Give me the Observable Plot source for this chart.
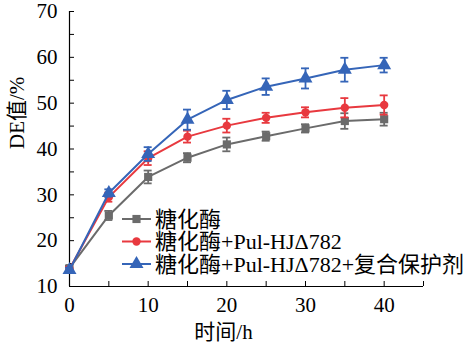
<!DOCTYPE html>
<html>
<head>
<meta charset="utf-8">
<script src="https://cdn.jsdelivr.net/npm/d3@7"></script>
<script src="https://cdn.jsdelivr.net/npm/@observablehq/plot@0.6"></script>
<style>
  body { margin: 0; background: #fff; }
  #chart { position: relative; width: 470px; height: 358px; }
  #chart svg, #chart svg text { font-family: "Liberation Serif", "DejaVu Serif", "Noto Sans CJK SC", serif !important; }
</style>
</head>
<body>
<div id="chart"></div>
<script>
const times = [0, 5, 10, 15, 20, 25, 30, 35, 40];
const seriesNames = ["糖化酶", "糖化酶+Pul-HJΔ782", "糖化酶+Pul-HJΔ782+复合保护剂"];
const grayVals = [14.0, 25.5, 33.9, 38.1, 41.0, 42.8, 44.5, 46.1, 46.5];
const grayErr  = [0.5, 1.0, 1.4, 1.0, 1.5, 1.0, 0.9, 1.7, 1.4];
const redVals  = [13.8, 29.5, 38.0, 42.7, 45.1, 46.8, 48.0, 49.0, 49.6];
const redErr   = [0.5, 1.0, 1.5, 1.3, 1.5, 1.1, 1.1, 2.1, 2.1];
const blueVals = [13.6, 30.4, 38.9, 46.4, 50.7, 53.6, 55.4, 57.3, 58.3];
const blueErr  = [0.5, 0.8, 1.5, 2.2, 2.0, 1.8, 2.2, 2.6, 1.6];
const yTicks = [10, 15, 20, 25, 30, 35, 40, 45, 50, 55, 60, 65, 70];
const xTicks = [0, 5, 10, 15, 20, 25, 30, 35, 40, 45];

const colors = ["#6b6b6b", "#e8393f", "#3565b8"];
const symbols = ["square", "circle", "triangle"];
const radii = [4.6, 4.2, 5.2];
const FONT = "Liberation Serif, DejaVu Serif, Noto Sans CJK SC, serif";

const valsList = [grayVals, redVals, blueVals];
const errList = [grayErr, redErr, blueErr];
const data = [];
seriesNames.forEach((s, i) => {
  times.forEach((t, j) => {
    data.push({series: s, idx: i, t, v: valsList[i][j], e: errList[i][j]});
  });
});

const marks = [
  Plot.ruleX([0], {stroke: "#000", strokeWidth: 1.2}),
  Plot.ruleY([10], {stroke: "#000", strokeWidth: 1.2}),
  Plot.axisY(yTicks, {tickSize: -5, tickPadding: 17, tickFormat: d => d % 10 ? "" : d, fontSize: 21, stroke: "#000"}),
  Plot.axisX(xTicks, {tickSize: -5, tickPadding: 16, tickFormat: d => d % 10 ? "" : d, fontSize: 21, stroke: "#000"}),
  Plot.text(["DE值/%"], {frameAnchor: "left", dx: -52, rotate: -90, fontSize: 21, fill: "#000"}),
  Plot.text(["时间/h"], {frameAnchor: "bottom", dx: -23, dy: 52, fontSize: 21, fill: "#000"})
];
seriesNames.forEach((s, i) => {
  const d = data.filter(r => r.idx === i);
  marks.push(
    Plot.line(d, {x: "t", y: "v", stroke: colors[i], strokeWidth: 2}),
    Plot.ruleX(d, {x: "t", y1: r => r.v - r.e, y2: r => r.v + r.e, stroke: colors[i], strokeWidth: 1.8}),
    Plot.ruleY(d, {y: r => r.v + r.e, x1: "t", x2: "t", insetLeft: -4, insetRight: -4, stroke: colors[i], strokeWidth: 1.8}),
    Plot.ruleY(d, {y: r => r.v - r.e, x1: "t", x2: "t", insetLeft: -4, insetRight: -4, stroke: colors[i], strokeWidth: 1.8}),
    Plot.dot(d, {x: "t", y: "v", symbol: () => symbols[i], r: radii[i], fill: colors[i], stroke: "none"})
  );
});

const chart = Plot.plot({
  width: 470,
  height: 358,
  marginLeft: 69,
  marginRight: 47,
  marginTop: 11,
  marginBottom: 72,
  style: {fontFamily: FONT, background: "#fff", color: "#000"},
  x: {domain: [0, 45], label: null},
  y: {domain: [10, 70], label: null},
  symbol: {type: "identity"},
  marks
});

// legend inside the plot area
const svg = d3.select(chart);
const lg = svg.append("g").attr("class", "legend").attr("text-anchor", "start");
const rowY = [219, 241.5, 264];
seriesNames.forEach((s, i) => {
  const g = lg.append("g").attr("transform", `translate(0,${rowY[i]})`);
  g.append("line").attr("x1", 122).attr("x2", 151).attr("y1", 0).attr("y2", 0)
    .attr("stroke", colors[i]).attr("stroke-width", 2);
  const symType = [d3.symbolSquare, d3.symbolCircle, d3.symbolTriangle][i];
  g.append("path").attr("transform", "translate(136.5,0)")
    .attr("d", d3.symbol(symType, Math.PI * radii[i] * radii[i])())
    .attr("fill", colors[i]);
  g.append("text").attr("x", 155).attr("y", 0).attr("dy", "0.36em")
    .attr("text-anchor", "start")
    .attr("font-size", 22).attr("fill", "#000").text(s);
});

document.getElementById("chart").appendChild(chart);
</script>
</body>
</html>
